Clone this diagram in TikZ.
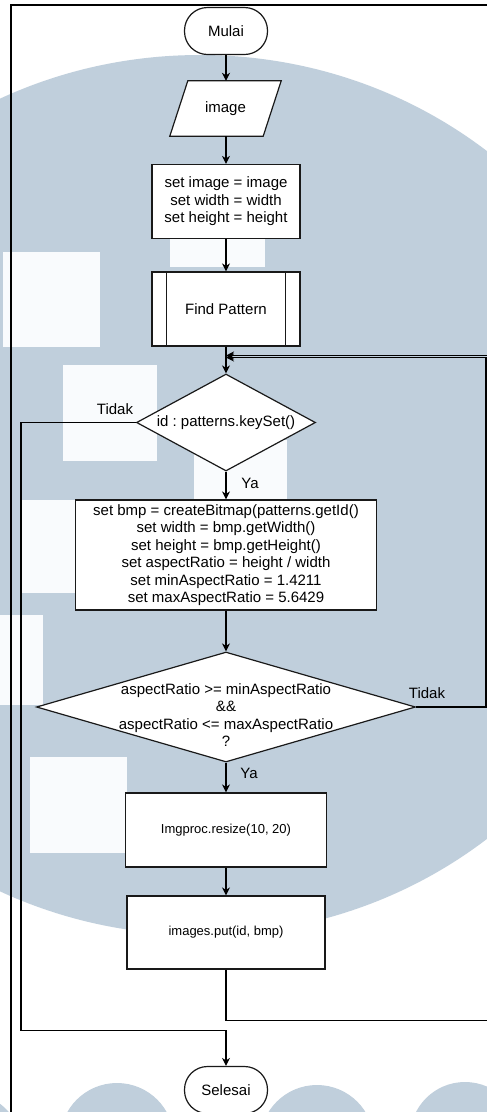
\documentclass[tikz,border=0pt]{standalone}
\usepackage{fontspec}
\setmainfont{Liberation Sans}
\usetikzlibrary{shapes.geometric,arrows.meta}
\definecolor{wmblue}{RGB}{192,207,220}
\definecolor{wmpale}{RGB}{249,251,253}
\definecolor{edge}{RGB}{25,25,25}
\pgfdeclarelayer{logo}
\pgfdeclarelayer{under}
\pgfsetlayers{logo,under,main}
\frenchspacing
\begin{document}
\begin{tikzpicture}[x=1pt,y=-1pt,
  every node/.style={font=\fontsize{15}{17.5}\selectfont, text=black},
  shapebox/.style={draw=edge, line width=1.2pt, fill=white, inner sep=0pt, align=center},
  termbox/.style={shapebox, rectangle, rounded corners=23pt, minimum width=83pt, minimum height=47pt},
  procbox/.style={shapebox, rectangle},
  iotext/.style={inner sep=0pt, minimum width=93pt, minimum height=55pt},
  outline/.style={draw=edge, line width=1.2pt, fill=white},
  decbox/.style={shapebox, diamond},
  flow/.style={draw=black, line width=1.2pt, -{Stealth[length=8pt,width=8pt,inset=2.5pt]}},
  tag/.style={inner sep=0pt},
  smalltext/.style={font=\fontsize{13}{15}\selectfont}
]
% canvas and clipping
\path[use as bounding box] (0,0) rectangle (487,1112);
\clip (0,0) rectangle (487,1112);

% faded logo in the background
\begin{pgfonlayer}{logo}
\fill[white] (0,0) rectangle (487,1112);
\fill[wmblue] (200,495) ellipse [x radius=460, y radius=440];
\fill[wmpale] (3,252) rectangle (100,347);
\fill[wmpale] (63,365) rectangle (157,461);
\fill[wmpale] (170,172) rectangle (265,267);
\fill[wmpale] (194,440) rectangle (287,535);
\fill[wmpale] (21,500) rectangle (75,593);
\fill[wmpale] (-52,615) rectangle (43,705);
\fill[wmpale] (30,757) rectangle (127,853);
\fill[wmblue] (117,1140) circle [radius=57];
\fill[wmblue] (317,1142) circle [radius=57];
\fill[wmblue] (465,1137) circle [radius=55];
\fill[wmblue] (-35,1150) circle [radius=58];
\end{pgfonlayer}

% page frame
\draw[line width=1.4pt] (11,1120) -- (11,5) -- (500,5);

% flowchart nodes
\node[termbox] (mulai) at (226,31) {Mulai};
\node[iotext] (img) at (225.5,108.5) {image};
\begin{pgfonlayer}{under}
\draw[outline] ([xshift=9pt]img.north west) -- ([xshift=9pt]img.north east)
  -- ([xshift=-9pt]img.south east) -- ([xshift=-9pt]img.south west) -- cycle;
\end{pgfonlayer}
\node[procbox, minimum width=148pt, minimum height=74pt] (set1) at (226,201.5)
  {set image = image\\set width = width\\set height = height};
\node[procbox, minimum width=148pt, minimum height=74pt] (fp) at (226,309) {Find Pattern};
\draw[edge, line width=1.2pt] ([xshift=15pt]fp.north west) -- ([xshift=15pt]fp.south west);
\draw[edge, line width=1.2pt] ([xshift=-15pt]fp.north east) -- ([xshift=-15pt]fp.south east);
\node[decbox, minimum width=179pt, minimum height=97pt,
  label={[align=center]center:id : patterns.keySet()}] (d1) at (226,422.5) {};
\node[procbox, minimum width=301pt, minimum height=110pt] (set2) at (226,555)
  {set bmp = createBitmap(patterns.getId()\\set width = bmp.getWidth()\\set height = bmp.getHeight()\\set aspectRatio = height / width\\set minAspectRatio = 1.4211\\set maxAspectRatio = 5.6429};
\node[decbox, minimum width=379pt, minimum height=110pt,
  label={[align=center, yshift=-8pt]center:{aspectRatio >= minAspectRatio\\\&\&\\aspectRatio <= maxAspectRatio\\?}}] (d2) at (226,707) {};
\node[procbox, smalltext, minimum width=201pt, minimum height=74pt] (rs) at (226,830) {Imgproc.resize(10, 20)};
\node[procbox, smalltext, minimum width=198pt, minimum height=73pt] (put) at (226,932.5) {images.put(id, bmp)};
\node[termbox] (selesai) at (226,1090) {Selesai};

% branch labels
\node[tag] (tidak1) at (115,409) {Tidak};
\node[tag] (ya1) at (250,483) {Ya};
\node[tag] (tidak2) at (427,693) {Tidak};
\node[tag] (ya2) at (249,773) {Ya};

% turning points of the loops
\coordinate (leftdown) at (21,1030.5);
\coordinate (loopA) at (486,357.5);
\coordinate (loopBlow) at (490,1020.5);
\coordinate (loopB) at (490,355.5);

% connectors
\draw[flow] (mulai) -- (mulai |- img.north);
\draw[flow] (mulai |- img.south) -- (set1);
\draw[flow] (set1) -- (fp);
\draw[flow] (fp) -- (d1);
\draw[flow] (d1) -- (set2);
\draw[flow] (set2) -- (d2);
\draw[flow] (d2) -- (rs);
\draw[flow] (rs) -- (put);
\draw[flow] (d1.west) -| (leftdown) -| (selesai.north);
\draw[flow] (d2.east) -| (loopA) -- (fp.south |- loopA);
\draw[flow] (put.south) |- (loopBlow) -- (loopB) -- (fp.south |- loopB);
\end{tikzpicture}
\end{document}
